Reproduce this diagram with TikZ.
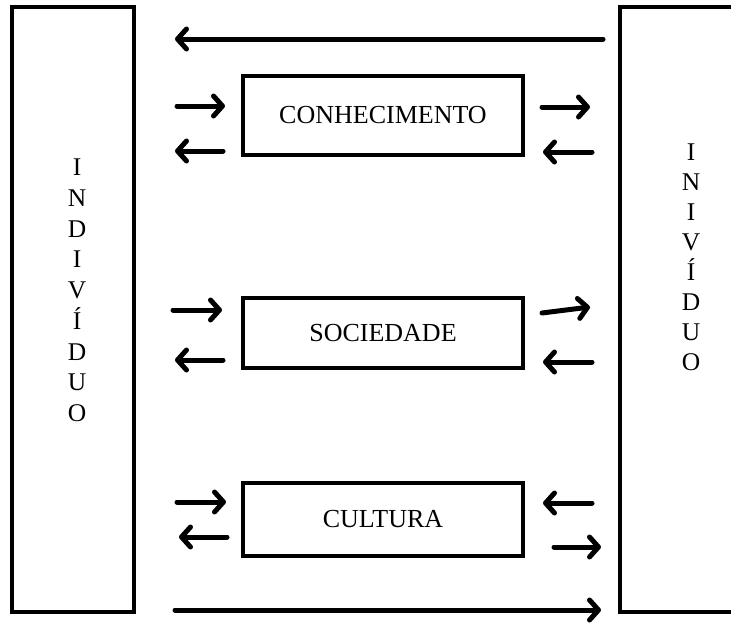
\documentclass[tikz,border=0pt]{standalone}
\usepackage{fontspec}
\setmainfont{Liberation Serif}
\usetikzlibrary{arrows.meta}
\tikzset{
  frame/.style={draw, line width=4.5pt, inner sep=0pt},
  topic/.style={frame, minimum width=280, font=\fontsize{26}{30}\selectfont},
  letter/.style={anchor=base, inner sep=0pt, font=\fontsize{25.5}{30}\selectfont},
  flow/.style={line width=5pt, line cap=round, line join=round, -{Straight Barb[length=9pt,width=20pt,round]}}
}
\begin{document}
\begin{tikzpicture}[x=1pt,y=-1pt]
\useasboundingbox (0,0) rectangle (731,622);
% the two individuals
\node[frame, minimum width=122, minimum height=605] (indL) at (73,309.5) {};
\node[frame, minimum width=160, minimum height=605] (indR) at (700,309.5) {};
\foreach \l [count=\i] in {I,N,D,I,V,Í,D,U,O}
  \node[letter, name=l\i] at (77,175.5+30.75*\i-30.75) {\l};
\foreach \l [count=\i] in {I,N,I,V,Í,D,U,O}
  \node[letter, name=r\i] at (691,160.5+30*\i-30) {\l};
% middle boxes
\node[topic, minimum height=79] (con) at (383,115.5) {CONHECIMENTO};
\node[topic, minimum height=70] (soc) at (383,333) {SOCIEDADE};
\node[topic, minimum height=73] (cul) at (383,519.5) {CULTURA};
% arrows
\foreach \n/\xa/\ya/\xb/\yb in {
    top/603/39/175/39,
    c1/177/106/225/106, c2/223/151/175/151, c3/542/107/590/107, c4/592/152/543/152,
    s1/173/310/222/310, s2/223/360/175/360, s3/542/313/590/307, s4/592/362/543/362,
    k1/177/502/226/502, k2/227/537/179/537, k3/592/503/543/503, k4/554/547/601/547,
    bot/175/610/601/610}
{
  \coordinate (\n a) at (\xa,\ya);
  \coordinate (\n b) at (\xb,\yb);
  \draw[flow] (\n a) -- (\n b);
}
\end{tikzpicture}
\end{document}
